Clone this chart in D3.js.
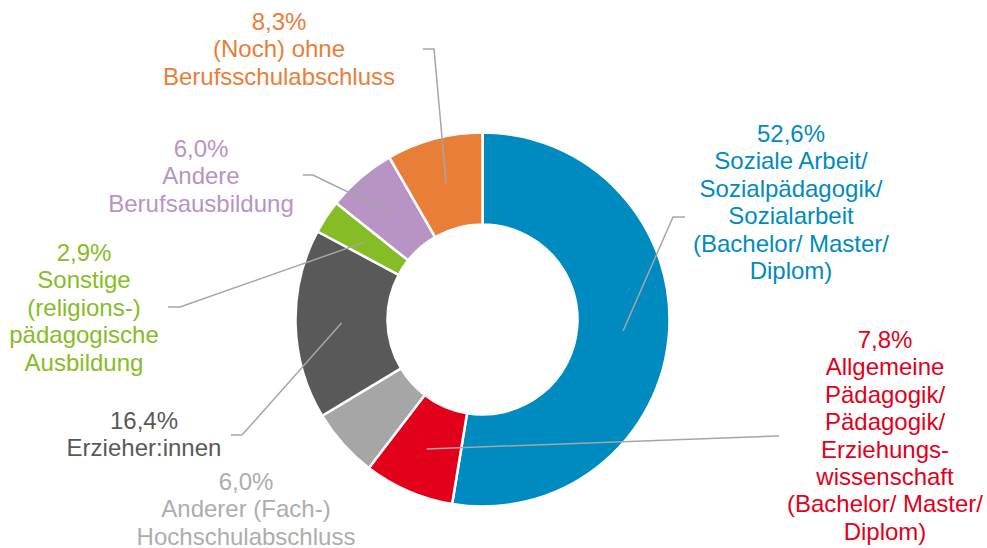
<!DOCTYPE html>
<html lang="de">
<head>
    <meta charset="UTF-8">
    <title>Ausbildungsabschlüsse</title>
    <script src="https://d3js.org/d3.v7.min.js"></script>
    <style>
        body { margin: 0; background: #fff; }
        svg { display: block; font-family: "Liberation Sans", Arial, sans-serif; }
    </style>
</head>
<body>
    <svg></svg>

    <script>
const width = 987, height = 548;

// Daten
const categories = [
    "Soziale Arbeit/ Sozialpädagogik/ Sozialarbeit (Bachelor/ Master/ Diplom)",
    "Allgemeine Pädagogik/ Pädagogik/ Erziehungswissenschaft (Bachelor/ Master/ Diplom)",
    "Anderer (Fach-) Hochschulabschluss",
    "Erzieher:innen",
    "Sonstige (religions-) pädagogische Ausbildung",
    "Andere Berufsausbildung",
    "(Noch) ohne Berufsschulabschluss"
];
const values = [52.6, 7.8, 6.0, 16.4, 2.9, 6.0, 8.3];
const labelLines = [
    ["Soziale Arbeit/", "Sozialpädagogik/", "Sozialarbeit", "(Bachelor/ Master/", "Diplom)"],
    ["Allgemeine", "Pädagogik/", "Pädagogik/", "Erziehungs-", "wissenschaft", "(Bachelor/ Master/", "Diplom)"],
    ["Anderer (Fach-)", "Hochschulabschluss"],
    ["Erzieher:innen"],
    ["Sonstige", "(religions-)", "pädagogische", "Ausbildung"],
    ["Andere", "Berufsausbildung"],
    ["(Noch) ohne", "Berufsschulabschluss"]
];
const colors = ["#008bc0", "#e2001a", "#a6a6a6", "#595959", "#86bc25", "#b794c4", "#e87e38"];
const textColors = ["#008bc0", "#e2001a", "#adadad", "#595959", "#86bc25", "#b794c4", "#e87e38"];

// Beschriftungs-Layout (Textmitte, erste Grundlinie, Knick und Ende der Führungslinie)
const labelLayout = [
    { x: 791, y: 142, elbow: [673, 217], end: [685, 217] },
    { x: 885, y: 348, elbow: [776, 436], end: [779, 436] },
    { x: 246, y: 490, elbow: null, end: null },
    { x: 144, y: 429, elbow: [242, 435], end: [231, 435] },
    { x: 84,  y: 261, elbow: [180, 307], end: [168, 307] },
    { x: 201, y: 157, elbow: [313, 175], end: [303, 175] },
    { x: 279, y: 30,  elbow: [434, 49],  end: [423, 49] }
];

const cx = 482.5, cy = 319.5;
const outerR = 187, innerR = 95;
const lineH = 27.4;

const fmt = v => d3.format(".1f")(v).replace(".", ",") + "%";

const svg = d3.select("svg")
    .attr("width", width)
    .attr("height", height);

const pie = d3.pie().sort(null).value(d => d);
const arc = d3.arc().innerRadius(innerR).outerRadius(outerR);
const mid = d3.arc().innerRadius((innerR + outerR) / 2).outerRadius((innerR + outerR) / 2);

const arcs = pie(values);

const g = svg.append("g").attr("transform", `translate(${cx},${cy})`);

g.selectAll("path.slice")
    .data(arcs)
    .join("path")
    .attr("class", "slice")
    .attr("d", arc)
    .attr("fill", (d, i) => colors[i])
    .attr("stroke", "#fff")
    .attr("stroke-width", 2.5);

// Führungslinien
svg.selectAll("polyline.leader")
    .data(arcs.filter((d, i) => labelLayout[i].elbow))
    .join("polyline")
    .attr("class", "leader")
    .attr("points", d => {
        const c = mid.centroid(d);
        const l = labelLayout[d.index];
        return [[cx + c[0], cy + c[1]], l.elbow, l.end].map(p => p.join(",")).join(" ");
    })
    .attr("fill", "none")
    .attr("stroke", "#a6a6a6")
    .attr("stroke-width", 1.5);

// Beschriftungen
const labels = svg.selectAll("text.lbl")
    .data(arcs)
    .join("text")
    .attr("class", "lbl")
    .attr("text-anchor", "middle")
    .attr("font-size", "24px")
    .attr("fill", (d, i) => textColors[i]);

labels.each(function(d, i) {
    const t = d3.select(this);
    const l = labelLayout[i];
    [fmt(values[i])].concat(labelLines[i]).forEach((line, k) => {
        t.append("tspan")
            .attr("x", l.x)
            .attr("y", l.y + k * lineH)
            .text(line);
    });
});
    </script>
</body>
</html>
